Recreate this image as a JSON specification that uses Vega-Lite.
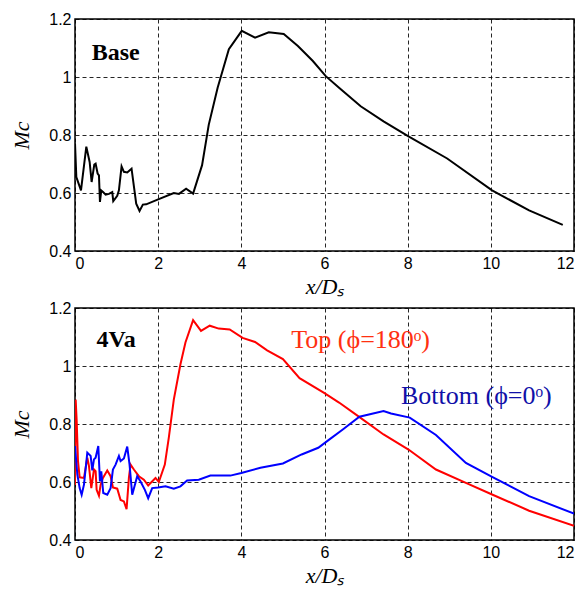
{
  "$schema": "https://vega.github.io/schema/vega-lite/v6.json",
  "background": "white",
  "padding": {"left": 10, "top": 10, "right": 10, "bottom": 5},
  "spacing": 1,
  "config": {
    "view": {"stroke": "black", "strokeWidth": 1.5},
    "concat": {"spacing": 1},
    "axis": {
      "labelFont": "Liberation Sans", "labelFontSize": 16, "labelColor": "black",
      "titleFont": "Liberation Serif", "titleFontSize": 22, "titleFontStyle": "italic", "titleFontWeight": "normal", "titleColor": "black",
      "grid": true, "gridColor": "black", "gridDash": [4, 3], "gridWidth": 1, "gridOpacity": 0.85,
      "ticks": false, "domain": false, "labelPadding": 4,
      "labelExpr": "format(datum.value, '~g')"
    }
  },
  "datasets": {
    "curves": [
      {"panel": "Base", "series": "Base", "x": 0.0, "y": 0.771},
      {"panel": "Base", "series": "Base", "x": 0.032, "y": 0.655},
      {"panel": "Base", "series": "Base", "x": 0.144, "y": 0.609},
      {"panel": "Base", "series": "Base", "x": 0.272, "y": 0.76},
      {"panel": "Base", "series": "Base", "x": 0.352, "y": 0.707},
      {"panel": "Base", "series": "Base", "x": 0.4, "y": 0.638},
      {"panel": "Base", "series": "Base", "x": 0.464, "y": 0.698},
      {"panel": "Base", "series": "Base", "x": 0.496, "y": 0.701},
      {"panel": "Base", "series": "Base", "x": 0.544, "y": 0.667},
      {"panel": "Base", "series": "Base", "x": 0.576, "y": 0.661},
      {"panel": "Base", "series": "Base", "x": 0.6, "y": 0.569},
      {"panel": "Base", "series": "Base", "x": 0.632, "y": 0.609},
      {"panel": "Base", "series": "Base", "x": 0.68, "y": 0.603},
      {"panel": "Base", "series": "Base", "x": 0.736, "y": 0.594},
      {"panel": "Base", "series": "Base", "x": 0.816, "y": 0.597},
      {"panel": "Base", "series": "Base", "x": 0.896, "y": 0.603},
      {"panel": "Base", "series": "Base", "x": 0.92, "y": 0.572},
      {"panel": "Base", "series": "Base", "x": 1.016, "y": 0.59},
      {"panel": "Base", "series": "Base", "x": 1.056, "y": 0.609},
      {"panel": "Base", "series": "Base", "x": 1.12, "y": 0.692},
      {"panel": "Base", "series": "Base", "x": 1.176, "y": 0.673},
      {"panel": "Base", "series": "Base", "x": 1.256, "y": 0.671},
      {"panel": "Base", "series": "Base", "x": 1.36, "y": 0.684},
      {"panel": "Base", "series": "Base", "x": 1.472, "y": 0.563},
      {"panel": "Base", "series": "Base", "x": 1.552, "y": 0.538},
      {"panel": "Base", "series": "Base", "x": 1.632, "y": 0.56},
      {"panel": "Base", "series": "Base", "x": 1.712, "y": 0.561},
      {"panel": "Base", "series": "Base", "x": 2.0, "y": 0.578},
      {"panel": "Base", "series": "Base", "x": 2.376, "y": 0.6},
      {"panel": "Base", "series": "Base", "x": 2.5, "y": 0.597},
      {"panel": "Base", "series": "Base", "x": 2.672, "y": 0.615},
      {"panel": "Base", "series": "Base", "x": 2.84, "y": 0.598},
      {"panel": "Base", "series": "Base", "x": 3.056, "y": 0.696},
      {"panel": "Base", "series": "Base", "x": 3.216, "y": 0.835},
      {"panel": "Base", "series": "Base", "x": 3.43, "y": 0.963},
      {"panel": "Base", "series": "Base", "x": 3.7, "y": 1.096},
      {"panel": "Base", "series": "Base", "x": 4.01, "y": 1.159},
      {"panel": "Base", "series": "Base", "x": 4.33, "y": 1.136},
      {"panel": "Base", "series": "Base", "x": 4.66, "y": 1.154},
      {"panel": "Base", "series": "Base", "x": 5.02, "y": 1.148},
      {"panel": "Base", "series": "Base", "x": 5.36, "y": 1.107},
      {"panel": "Base", "series": "Base", "x": 5.72, "y": 1.055},
      {"panel": "Base", "series": "Base", "x": 6.03, "y": 1.003},
      {"panel": "Base", "series": "Base", "x": 6.35, "y": 0.963},
      {"panel": "Base", "series": "Base", "x": 6.87, "y": 0.899},
      {"panel": "Base", "series": "Base", "x": 7.42, "y": 0.847},
      {"panel": "Base", "series": "Base", "x": 8.02, "y": 0.795},
      {"panel": "Base", "series": "Base", "x": 8.95, "y": 0.719},
      {"panel": "Base", "series": "Base", "x": 10.03, "y": 0.609},
      {"panel": "Base", "series": "Base", "x": 10.92, "y": 0.54},
      {"panel": "Base", "series": "Base", "x": 11.73, "y": 0.49},

      {"panel": "4Va", "series": "Top", "x": 0.0, "y": 0.59},
      {"panel": "4Va", "series": "Top", "x": 0.016, "y": 0.884},
      {"panel": "4Va", "series": "Top", "x": 0.04, "y": 0.812},
      {"panel": "4Va", "series": "Top", "x": 0.072, "y": 0.672},
      {"panel": "4Va", "series": "Top", "x": 0.112, "y": 0.616},
      {"panel": "4Va", "series": "Top", "x": 0.216, "y": 0.614},
      {"panel": "4Va", "series": "Top", "x": 0.296, "y": 0.684},
      {"panel": "4Va", "series": "Top", "x": 0.336, "y": 0.655},
      {"panel": "4Va", "series": "Top", "x": 0.392, "y": 0.579},
      {"panel": "4Va", "series": "Top", "x": 0.456, "y": 0.643},
      {"panel": "4Va", "series": "Top", "x": 0.496, "y": 0.637},
      {"panel": "4Va", "series": "Top", "x": 0.52, "y": 0.573},
      {"panel": "4Va", "series": "Top", "x": 0.576, "y": 0.553},
      {"panel": "4Va", "series": "Top", "x": 0.616, "y": 0.59},
      {"panel": "4Va", "series": "Top", "x": 0.672, "y": 0.614},
      {"panel": "4Va", "series": "Top", "x": 0.776, "y": 0.64},
      {"panel": "4Va", "series": "Top", "x": 0.856, "y": 0.62},
      {"panel": "4Va", "series": "Top", "x": 0.912, "y": 0.581},
      {"panel": "4Va", "series": "Top", "x": 1.016, "y": 0.577},
      {"panel": "4Va", "series": "Top", "x": 1.096, "y": 0.538},
      {"panel": "4Va", "series": "Top", "x": 1.176, "y": 0.533},
      {"panel": "4Va", "series": "Top", "x": 1.24, "y": 0.506},
      {"panel": "4Va", "series": "Top", "x": 1.296, "y": 0.614},
      {"panel": "4Va", "series": "Top", "x": 1.336, "y": 0.66},
      {"panel": "4Va", "series": "Top", "x": 1.416, "y": 0.643},
      {"panel": "4Va", "series": "Top", "x": 1.536, "y": 0.62},
      {"panel": "4Va", "series": "Top", "x": 1.656, "y": 0.608},
      {"panel": "4Va", "series": "Top", "x": 1.76, "y": 0.588},
      {"panel": "4Va", "series": "Top", "x": 1.936, "y": 0.614},
      {"panel": "4Va", "series": "Top", "x": 2.016, "y": 0.6},
      {"panel": "4Va", "series": "Top", "x": 2.16, "y": 0.66},
      {"panel": "4Va", "series": "Top", "x": 2.256, "y": 0.753},
      {"panel": "4Va", "series": "Top", "x": 2.376, "y": 0.884},
      {"panel": "4Va", "series": "Top", "x": 2.536, "y": 1.006},
      {"panel": "4Va", "series": "Top", "x": 2.656, "y": 1.081},
      {"panel": "4Va", "series": "Top", "x": 2.84, "y": 1.158},
      {"panel": "4Va", "series": "Top", "x": 3.03, "y": 1.121},
      {"panel": "4Va", "series": "Top", "x": 3.24, "y": 1.139},
      {"panel": "4Va", "series": "Top", "x": 3.456, "y": 1.129},
      {"panel": "4Va", "series": "Top", "x": 3.72, "y": 1.126},
      {"panel": "4Va", "series": "Top", "x": 4.03, "y": 1.097},
      {"panel": "4Va", "series": "Top", "x": 4.33, "y": 1.083},
      {"panel": "4Va", "series": "Top", "x": 4.62, "y": 1.054},
      {"panel": "4Va", "series": "Top", "x": 5.0, "y": 1.024},
      {"panel": "4Va", "series": "Top", "x": 5.4, "y": 0.958},
      {"panel": "4Va", "series": "Top", "x": 5.99, "y": 0.907},
      {"panel": "4Va", "series": "Top", "x": 6.35, "y": 0.874},
      {"panel": "4Va", "series": "Top", "x": 6.8, "y": 0.828},
      {"panel": "4Va", "series": "Top", "x": 7.42, "y": 0.764},
      {"panel": "4Va", "series": "Top", "x": 8.02, "y": 0.712},
      {"panel": "4Va", "series": "Top", "x": 8.68, "y": 0.643},
      {"panel": "4Va", "series": "Top", "x": 9.4, "y": 0.597},
      {"panel": "4Va", "series": "Top", "x": 10.03, "y": 0.557},
      {"panel": "4Va", "series": "Top", "x": 10.92, "y": 0.501},
      {"panel": "4Va", "series": "Top", "x": 12.0, "y": 0.449},

      {"panel": "4Va", "series": "Bottom", "x": 0.0, "y": 0.724},
      {"panel": "4Va", "series": "Bottom", "x": 0.056, "y": 0.626},
      {"panel": "4Va", "series": "Bottom", "x": 0.112, "y": 0.579},
      {"panel": "4Va", "series": "Bottom", "x": 0.16, "y": 0.556},
      {"panel": "4Va", "series": "Bottom", "x": 0.216, "y": 0.591},
      {"panel": "4Va", "series": "Bottom", "x": 0.296, "y": 0.701},
      {"panel": "4Va", "series": "Bottom", "x": 0.376, "y": 0.69},
      {"panel": "4Va", "series": "Bottom", "x": 0.416, "y": 0.64},
      {"panel": "4Va", "series": "Bottom", "x": 0.456, "y": 0.678},
      {"panel": "4Va", "series": "Bottom", "x": 0.496, "y": 0.684},
      {"panel": "4Va", "series": "Bottom", "x": 0.56, "y": 0.724},
      {"panel": "4Va", "series": "Bottom", "x": 0.6, "y": 0.602},
      {"panel": "4Va", "series": "Bottom", "x": 0.632, "y": 0.637},
      {"panel": "4Va", "series": "Bottom", "x": 0.68, "y": 0.562},
      {"panel": "4Va", "series": "Bottom", "x": 0.776, "y": 0.556},
      {"panel": "4Va", "series": "Bottom", "x": 0.856, "y": 0.579},
      {"panel": "4Va", "series": "Bottom", "x": 0.912, "y": 0.643},
      {"panel": "4Va", "series": "Bottom", "x": 0.976, "y": 0.66},
      {"panel": "4Va", "series": "Bottom", "x": 1.056, "y": 0.69},
      {"panel": "4Va", "series": "Bottom", "x": 1.096, "y": 0.672},
      {"panel": "4Va", "series": "Bottom", "x": 1.176, "y": 0.681},
      {"panel": "4Va", "series": "Bottom", "x": 1.256, "y": 0.722},
      {"panel": "4Va", "series": "Bottom", "x": 1.312, "y": 0.66},
      {"panel": "4Va", "series": "Bottom", "x": 1.376, "y": 0.556},
      {"panel": "4Va", "series": "Bottom", "x": 1.496, "y": 0.62},
      {"panel": "4Va", "series": "Bottom", "x": 1.576, "y": 0.602},
      {"panel": "4Va", "series": "Bottom", "x": 1.68, "y": 0.573},
      {"panel": "4Va", "series": "Bottom", "x": 1.76, "y": 0.544},
      {"panel": "4Va", "series": "Bottom", "x": 1.856, "y": 0.579},
      {"panel": "4Va", "series": "Bottom", "x": 2.0, "y": 0.581},
      {"panel": "4Va", "series": "Bottom", "x": 2.176, "y": 0.585},
      {"panel": "4Va", "series": "Bottom", "x": 2.376, "y": 0.577},
      {"panel": "4Va", "series": "Bottom", "x": 2.536, "y": 0.585},
      {"panel": "4Va", "series": "Bottom", "x": 2.696, "y": 0.605},
      {"panel": "4Va", "series": "Bottom", "x": 2.976, "y": 0.608},
      {"panel": "4Va", "series": "Bottom", "x": 3.256, "y": 0.622},
      {"panel": "4Va", "series": "Bottom", "x": 3.736, "y": 0.622},
      {"panel": "4Va", "series": "Bottom", "x": 4.0, "y": 0.631},
      {"panel": "4Va", "series": "Bottom", "x": 4.46, "y": 0.649},
      {"panel": "4Va", "series": "Bottom", "x": 5.0, "y": 0.664},
      {"panel": "4Va", "series": "Bottom", "x": 5.45, "y": 0.695},
      {"panel": "4Va", "series": "Bottom", "x": 5.85, "y": 0.718},
      {"panel": "4Va", "series": "Bottom", "x": 6.12, "y": 0.747},
      {"panel": "4Va", "series": "Bottom", "x": 6.44, "y": 0.781},
      {"panel": "4Va", "series": "Bottom", "x": 6.84, "y": 0.825},
      {"panel": "4Va", "series": "Bottom", "x": 7.42, "y": 0.845},
      {"panel": "4Va", "series": "Bottom", "x": 7.6, "y": 0.836},
      {"panel": "4Va", "series": "Bottom", "x": 8.05, "y": 0.822},
      {"panel": "4Va", "series": "Bottom", "x": 8.68, "y": 0.762},
      {"panel": "4Va", "series": "Bottom", "x": 9.4, "y": 0.666},
      {"panel": "4Va", "series": "Bottom", "x": 10.03, "y": 0.618},
      {"panel": "4Va", "series": "Bottom", "x": 10.92, "y": 0.551},
      {"panel": "4Va", "series": "Bottom", "x": 12.0, "y": 0.491}
    ],
    "labels": [
      {"panel": "Base", "text": "Base", "x": 0.4, "y": 1.083, "kind": "case"},
      {"panel": "4Va", "text": "4Va", "x": 0.52, "y": 1.09, "kind": "case"},
      {"panel": "4Va", "text": "Top (ϕ=180ᵒ)", "x": 5.2, "y": 1.09, "kind": "Top"},
      {"panel": "4Va", "text": "Bottom (ϕ=0ᵒ)", "x": 7.84, "y": 0.897, "kind": "Bottom"}
    ]
  },
  "vconcat": [
    {
      "width": 499, "height": 232,
      "layer": [
        {
          "data": {"name": "curves"},
          "transform": [{"filter": "datum.panel === 'Base'"}],
          "mark": {"type": "line", "strokeWidth": 2, "color": "black", "clip": true},
          "encoding": {
            "x": {"field": "x", "type": "quantitative", "scale": {"domain": [0, 12], "nice": false, "zero": false}, "axis": {"title": "x/Dₛ", "values": [0, 2, 4, 6, 8, 10, 12], "titlePadding": 5}},
            "y": {"field": "y", "type": "quantitative", "scale": {"domain": [0.4, 1.2], "nice": false, "zero": false}, "axis": {"title": "Mc", "values": [0.4, 0.6, 0.8, 1, 1.2], "titlePadding": 15}},
            "order": {"field": "x", "type": "quantitative"}
          }
        },
        {
          "data": {"name": "labels"},
          "transform": [{"filter": "datum.panel === 'Base'"}],
          "mark": {"type": "text", "align": "left", "baseline": "middle", "font": "Liberation Serif", "fontSize": 24, "fontWeight": "bold", "color": "black"},
          "encoding": {
            "x": {"field": "x", "type": "quantitative"},
            "y": {"field": "y", "type": "quantitative"},
            "text": {"field": "text"}
          }
        }
      ]
    },
    {
      "width": 499, "height": 232,
      "layer": [
        {
          "data": {"name": "curves"},
          "transform": [{"filter": "datum.panel === '4Va'"}],
          "mark": {"type": "line", "strokeWidth": 2, "clip": true},
          "encoding": {
            "x": {"field": "x", "type": "quantitative", "scale": {"domain": [0, 12], "nice": false, "zero": false}, "axis": {"title": "x/Dₛ", "values": [0, 2, 4, 6, 8, 10, 12], "titlePadding": 5}},
            "y": {"field": "y", "type": "quantitative", "scale": {"domain": [0.4, 1.2], "nice": false, "zero": false}, "axis": {"title": "Mc", "values": [0.4, 0.6, 0.8, 1, 1.2], "titlePadding": 15}},
            "color": {"field": "series", "type": "nominal", "scale": {"domain": ["Top", "Bottom"], "range": ["#ff0000", "#0000ff"]}, "legend": null},
            "detail": {"field": "series"},
            "order": {"field": "x", "type": "quantitative"}
          }
        },
        {
          "data": {"name": "labels"},
          "transform": [{"filter": "datum.panel === '4Va' && datum.kind === 'case'"}],
          "mark": {"type": "text", "align": "left", "baseline": "middle", "font": "Liberation Serif", "fontSize": 24, "fontWeight": "bold", "color": "black"},
          "encoding": {
            "x": {"field": "x", "type": "quantitative"},
            "y": {"field": "y", "type": "quantitative"},
            "text": {"field": "text"}
          }
        },
        {
          "data": {"name": "labels"},
          "transform": [{"filter": "datum.panel === '4Va' && datum.kind !== 'case'"}],
          "mark": {"type": "text", "align": "left", "baseline": "middle", "font": "Liberation Serif", "fontSize": 26},
          "encoding": {
            "x": {"field": "x", "type": "quantitative"},
            "y": {"field": "y", "type": "quantitative"},
            "text": {"field": "text"},
            "color": {"field": "kind", "type": "nominal", "scale": {"domain": ["Top", "Bottom"], "range": ["#ff3010", "#1010a8"]}, "legend": null}
          }
        }
      ],
      "resolve": {"scale": {"color": "independent"}}
    }
  ]
}
